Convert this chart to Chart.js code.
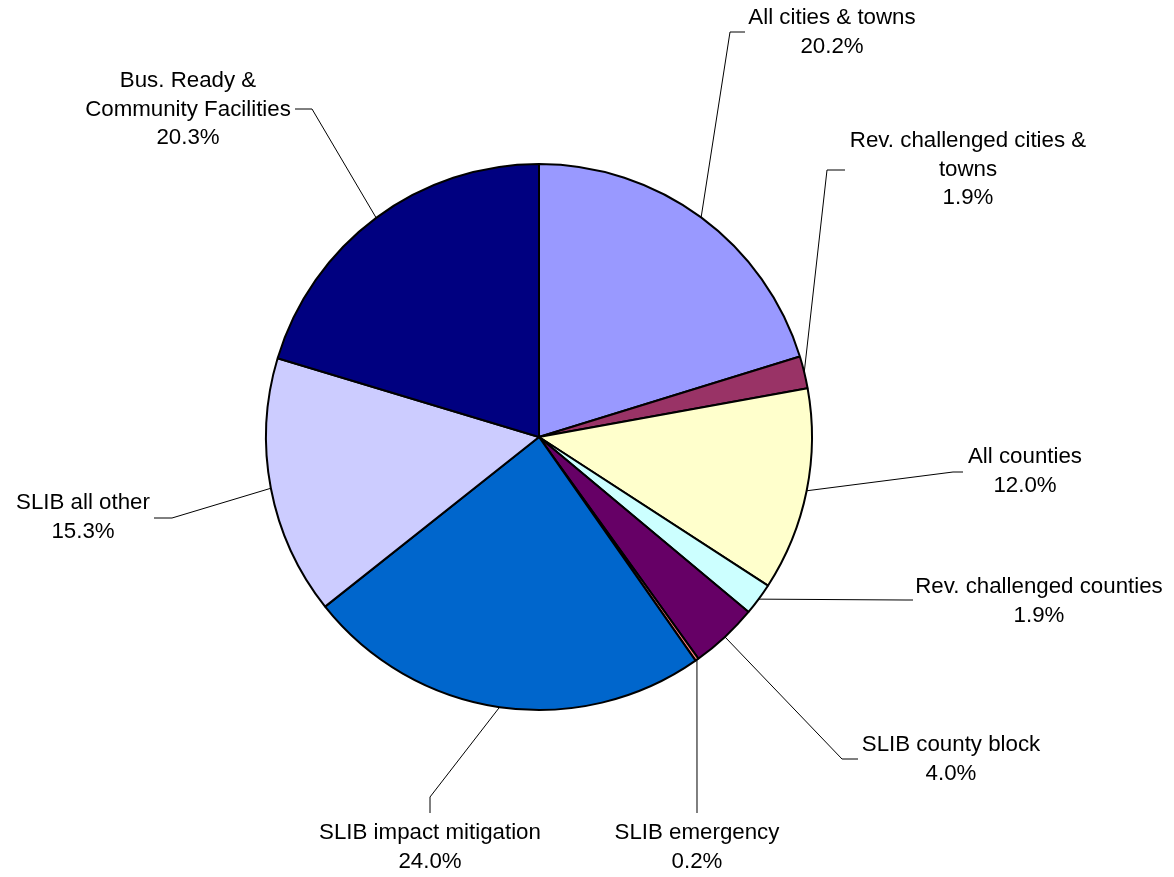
<!DOCTYPE html>
<html>
<head>
<meta charset="utf-8">
<script src="https://cdn.jsdelivr.net/npm/chart.js@4.4.1/dist/chart.umd.min.js"></script>
<style>
  html, body { margin: 0; padding: 0; background: #fff; }
  #wrap { width: 1174px; height: 877px; position: relative; }
</style>
</head>
<body>
<div id="wrap"><canvas id="grafico"></canvas></div>
<script>
// categories and shares (%), clockwise from 12 o'clock
const categorias = [
  ['All cities & towns'],
  ['Rev. challenged cities &', 'towns'],
  ['All counties'],
  ['Rev. challenged counties'],
  ['SLIB county block'],
  ['SLIB emergency'],
  ['SLIB impact mitigation'],
  ['SLIB all other'],
  ['Bus. Ready &', 'Community Facilities']
];
const valores = [20.2, 1.9, 12.0, 1.9, 4.0, 0.2, 24.0, 15.3, 20.3];
const cores = ['#9999FF', '#993366', '#FFFFCC', '#CCFFFF', '#660066', '#FF8080', '#0066CC', '#CCCCFF', '#000080'];

// label layout: text centre (first line), leader elbow and end point
const rotulos = [
  { tx: 832, ty: 18, elbow: [730, 32], fim: [745, 32] },
  { tx: 968, ty: 141, elbow: [827, 170], fim: [845, 170] },
  { tx: 1025, ty: 457, elbow: [953, 472], fim: [963, 472] },
  { tx: 1039, ty: 587, elbow: [905, 600], fim: [913, 600] },
  { tx: 951, ty: 745, elbow: [842, 759], fim: [858, 759] },
  { tx: 697, ty: 833, elbow: [697, 813], fim: [697, 813] },
  { tx: 430, ty: 833, elbow: [430, 797], fim: [430, 813] },
  { tx: 83, ty: 503, elbow: [172, 518], fim: [154, 518] },
  { tx: 188, ty: 81, elbow: [312, 109], fim: [295, 109] }
];

const rotuloPlugin = {
  id: 'rotulos',
  afterDraw(chart) {
    const ctx = chart.ctx;
    const arcs = chart.getDatasetMeta(0).data;
    ctx.save();
    ctx.font = '22.3px "Liberation Sans", Arial, sans-serif';
    ctx.textAlign = 'center';
    ctx.textBaseline = 'middle';
    arcs.forEach((arc, i) => {
      const p = arc.getProps(['x', 'y', 'startAngle', 'endAngle', 'outerRadius'], true);
      const meio = (p.startAngle + p.endAngle) / 2;
      const sx = p.x + Math.cos(meio) * p.outerRadius;
      const sy = p.y + Math.sin(meio) * p.outerRadius;
      const r = rotulos[i];
      ctx.strokeStyle = '#000';
      ctx.lineWidth = 1;
      ctx.beginPath();
      ctx.moveTo(sx, sy);
      ctx.lineTo(r.elbow[0], r.elbow[1]);
      ctx.lineTo(r.fim[0], r.fim[1]);
      ctx.stroke();
      ctx.fillStyle = '#000';
      const linhas = categorias[i].concat([valores[i].toFixed(1) + '%']);
      linhas.forEach((t, k) => ctx.fillText(t, r.tx, r.ty + k * 28.5));
    });
    ctx.restore();
  }
};

const ctx = document.getElementById('grafico').getContext('2d');
const grafico = new Chart(ctx, {
  type: 'pie',
  data: {
    labels: categorias.map(c => c.join(' ')),
    datasets: [{
      data: valores,
      backgroundColor: cores,
      borderColor: '#000',
      borderWidth: 2
    }]
  },
  options: {
    responsive: true,
    maintainAspectRatio: false,
    animation: false,
    layout: { padding: { left: 265, right: 361, top: 163, bottom: 166 } },
    plugins: { legend: { display: false }, tooltip: { enabled: false } }
  },
  plugins: [rotuloPlugin]
});
</script>
</body>
</html>
